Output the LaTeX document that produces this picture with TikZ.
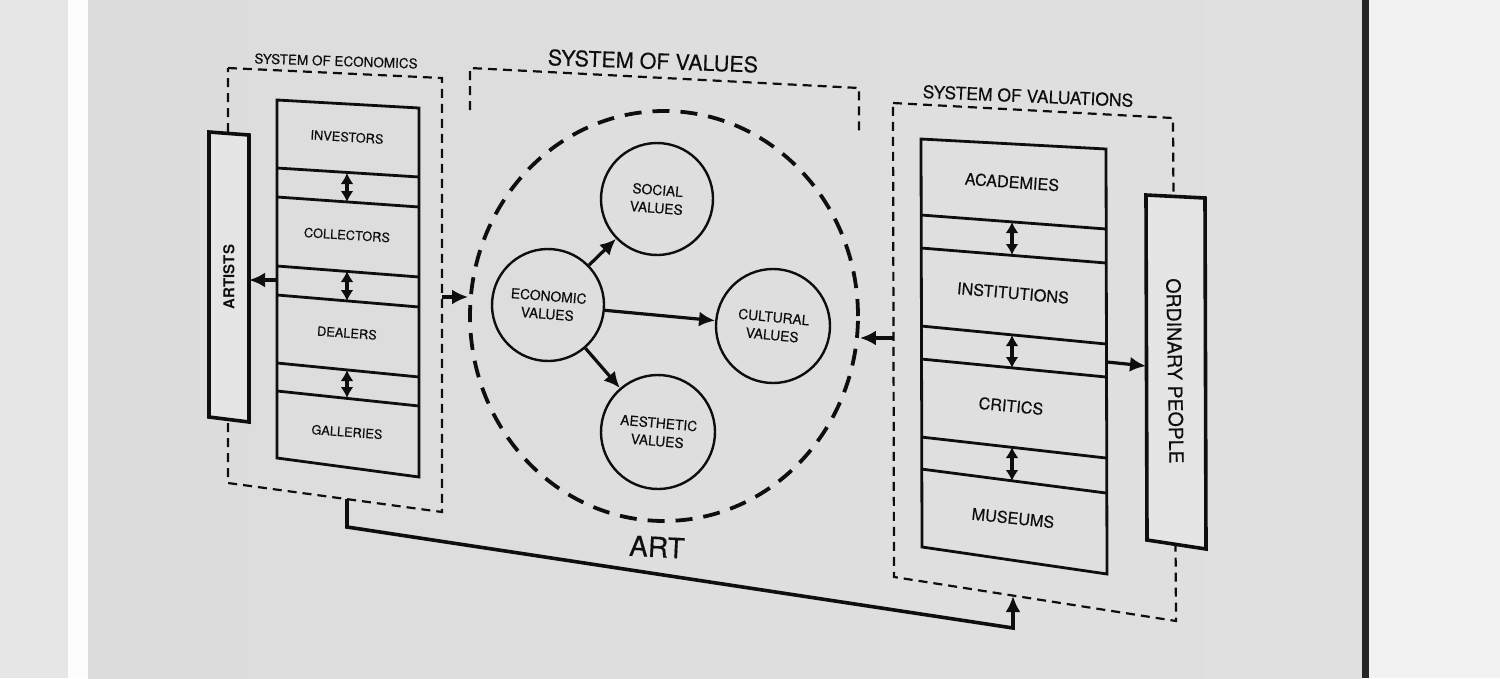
\documentclass[tikz,border=0pt]{standalone}
\usepackage{fontspec}
\setmainfont{TeX Gyre Heros}
\newfontfamily\heavy{TeX Gyre Heros}[FakeBold=0.35]
\usetikzlibrary{arrows.meta,shapes.geometric}
\definecolor{paper}{HTML}{E5E5E5}
\definecolor{paperL}{HTML}{DCDCDC}
\definecolor{paperR}{HTML}{E0E0E0}
\definecolor{framegray}{HTML}{E6E6E6}
\definecolor{stripe}{HTML}{FDFDFD}
\definecolor{rightwall}{HTML}{F2F2F2}
\definecolor{ink}{HTML}{0E0E0E}
\begin{document}
\begin{tikzpicture}[x=1pt,y=-1pt,
  dbox/.style={draw=ink, line width=2.2pt, dash pattern=on 9pt off 6pt},
  sbox/.style={draw=ink, line width=2.8pt, line join=miter},
  tbox/.style={draw=ink, line width=3.6pt, fill=paper, line join=miter},
  arr/.style={draw=ink, line width=3.2pt, -{Latex[length=16pt,width=15pt]}},
  darr/.style={draw=ink, line width=3.2pt, {Latex[length=11pt,width=13pt]}-{Latex[length=11pt,width=13pt]}},
  lbl/.style={inner sep=0pt, text=ink},
  vcirc/.style={circle, draw=ink, line width=2.4pt, minimum size=112pt, inner sep=0pt, align=center, text=ink, font=\heavy\fontsize{13.8}{18}\selectfont},
  lstk/.style={lbl, font=\heavy\fontsize{12.8}{15}\selectfont},
  rstk/.style={lbl, font=\heavy\fontsize{16.2}{19}\selectfont}
]
\useasboundingbox (0,0) rectangle (1500,678);
% ---- background (photo of framed print) ----
\fill[framegray] (0,0) rectangle (68,678);
\fill[stripe] (68,0) rectangle (88,678);
\shade[left color=paperL, middle color=paper, right color=paperR] (88,0) rectangle (1362,678);
\fill[black!85] (1362,0) rectangle (1369,678);
\fill[rightwall] (1369,0) rectangle (1500,678);

% ---- dashed system boxes ----
\draw[dbox] (228,68) -- (442,78) -- (442,512) -- (228,483) -- cycle;
\draw[dbox] (470,110) -- (470,68) -- (859,88) -- (859,133);
\draw[dbox] (893,103) -- (1173,118) -- (1176,621) -- (894,577) -- cycle;

% ---- side boxes ----
\draw[tbox] (209,132) -- (249,135) -- (249,422) -- (209,417) -- cycle;
\draw[tbox] (1146,195) -- (1205,198) -- (1206,549) -- (1147,540) -- cycle;

% ---- left stack ----
\draw[sbox] (277,100) -- (419,108) -- (419,477) -- (277,458) -- cycle;
\draw[sbox] (277,168) -- (419,177);
\draw[sbox] (277,197) -- (419,207);
\draw[sbox] (277,266) -- (419,277);
\draw[sbox] (277,295) -- (419,307);
\draw[sbox] (277,363) -- (419,377);
\draw[sbox] (277,391) -- (419,406);

% ---- right stack ----
\draw[sbox] (921,139) -- (1106,149) -- (1107,574) -- (922,547) -- cycle;
\draw[sbox] (921,215) -- (1106,229);
\draw[sbox] (921,248) -- (1106,263);
\draw[sbox] (921,326) -- (1106,344);
\draw[sbox] (921,359) -- (1106,377);
\draw[sbox] (921,437) -- (1106,458);
\draw[sbox] (921,469) -- (1106,493);

% ---- big dashed circle (ART) ----
\node[ellipse, draw=ink, line width=3.8pt, dash pattern=on 17pt off 11pt,
      minimum width=388pt, minimum height=410pt, inner sep=0pt] (artc) at (664,316) {};

% ---- value circles ----
\node[vcirc, rotate=-4.5] (econ) at (548,305) {ECONOMIC\\VALUES};
\node[vcirc, rotate=-4.5] (social) at (657,199) {SOCIAL\\VALUES};
\node[vcirc, rotate=-5.5, minimum size=114pt] (cult) at (773,326) {CULTURAL\\VALUES};
\node[vcirc, rotate=-5, minimum size=114pt] (aest) at (658,432) {AESTHETIC\\VALUES};

\draw[arr] (econ) -- (social);
\draw[arr] (econ) -- (cult);
\draw[arr] (econ) -- (aest);

% ---- labels ----
\node[lbl, font=\heavy\fontsize{13.5}{16}\selectfont, rotate=-1.8] (tEcon) at (336,61) {SYSTEM OF ECONOMICS};
\node[lbl, font=\heavy\fontsize{21.5}{25}\selectfont, rotate=-2] (tVal) at (653,61) {SYSTEM OF VALUES};
\node[lbl, font=\heavy\fontsize{17.5}{21}\selectfont, rotate=-2.4] (tValu) at (1028,96) {SYSTEM OF VALUATIONS};
\node[lbl, font=\heavy\fontsize{28}{32}\selectfont, rotate=-3] (tArt) at (657,547) {ART};

\node[lbl, font=\bfseries\fontsize{15}{18}\selectfont, rotate=90] (artists) at (229,277) {ARTISTS};
\node[lbl, font=\heavy\fontsize{19.5}{22}\selectfont, rotate=-89] (ordinary) at (1175,371) {ORDINARY PEOPLE};

\node[lstk, rotate=-3.5] (inv) at (347,137) {INVESTORS};
\node[lstk, rotate=-3.5] (col) at (347,235) {COLLECTORS};
\node[lstk, rotate=-4] (dea) at (347,333) {DEALERS};
\node[lstk, rotate=-4] (gal) at (347,432) {GALLERIES};

\node[rstk, rotate=-4] (aca) at (1012,182) {ACADEMIES};
\node[rstk, rotate=-5] (ins) at (1013,293) {INSTITUTIONS};
\node[rstk, rotate=-5.5] (cri) at (1011,406) {CRITICS};
\node[rstk, rotate=-6] (mus) at (1013,518) {MUSEUMS};

% ---- double arrows between layers ----
\coordinate (l1a) at (347,173); \coordinate (l1b) at (347,202);
\coordinate (l2a) at (347,271); \coordinate (l2b) at (347,301);
\coordinate (l3a) at (347,370); \coordinate (l3b) at (347,398);
\draw[darr] (l1a) -- (l1b);
\draw[darr] (l2a) -- (l2b);
\draw[darr] (l3a) -- (l3b);
\coordinate (r1a) at (1012,222); \coordinate (r1b) at (1012,255);
\coordinate (r2a) at (1012,335); \coordinate (r2b) at (1012,368);
\coordinate (r3a) at (1012,447); \coordinate (r3b) at (1012,481);
\draw[darr] (r1a) -- (r1b);
\draw[darr] (r2a) -- (r2b);
\draw[darr] (r3a) -- (r3b);

% ---- connectors ----
\coordinate (stkW) at (277,280); \coordinate (artE) at (249,280);
\draw[arr] (stkW) -- (artE);
\coordinate (econE) at (442,297);
\draw[arr] (econE) -- (econE -| artc.west);
\coordinate (valW) at (893,338);
\draw[arr] (valW) -- (valW -| artc.east);
\coordinate (stkE) at (1107,362); \coordinate (ordW) at (1146,366);
\draw[arr] (stkE) -- (ordW);

\coordinate (econB) at (347,499);
\coordinate (bendA) at (347,527);
\coordinate (bendB) at (1013,628);
\coordinate (valB) at (1013,596);
\draw[arr, line width=3.6pt, line join=miter] (econB) -- (bendA) -- (bendB) -- (valB);
\end{tikzpicture}
\end{document}
